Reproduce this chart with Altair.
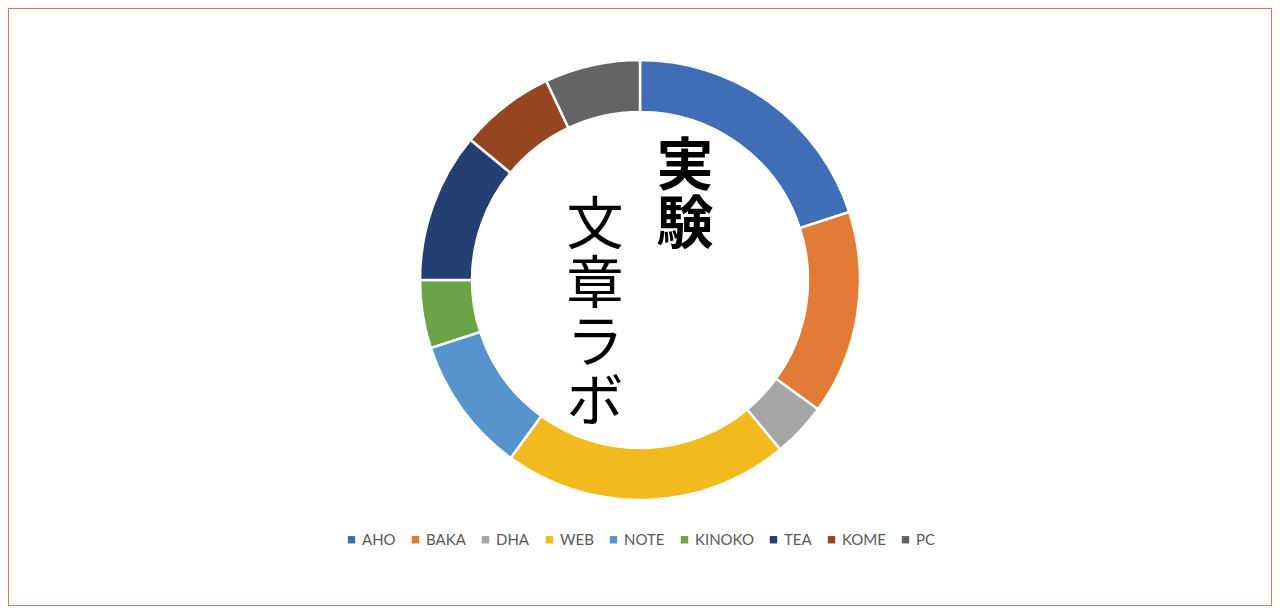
import altair as alt
import pandas as pd

categories = ["AHO", "BAKA", "DHA", "WEB", "NOTE", "KINOKO", "TEA", "KOME", "PC"]
values = [20, 15, 4, 21, 10, 5, 11, 7, 7]
colors = ["#3F6EB6", "#E27B35", "#A5A5A5", "#F2BA1E", "#5794CD", "#6BA446",
          "#243F72", "#954520", "#646464"]
title_right = ["実", "験"]
title_left = ["文", "章", "ラ", "ボ"]

df = pd.DataFrame({"cat": categories, "val": values, "idx": list(range(len(values)))})

W, H = 1264, 598

donut = alt.Chart(df).mark_arc(
    outerRadius=220, innerRadius=168, stroke="white", strokeWidth=2.5
).encode(
    x=alt.value(632),
    y=alt.value(272),
    theta=alt.Theta("val:Q", stack=True),
    order=alt.Order("idx:Q"),
    color=alt.Color(
        "cat:N",
        scale=alt.Scale(domain=categories, range=colors),
        sort=categories,
        legend=alt.Legend(
            title=None,
            orient="none",
            direction="horizontal",
            legendX=336,
            legendY=524,
            symbolType="square",
            symbolSize=55,
            symbolStrokeWidth=0,
            labelFontSize=15,
            labelFont="Lato",
            labelColor="#595959",
            columnPadding=12,
            labelOffset=3,
        ),
    ),
)

one = pd.DataFrame({"a": [0]})

txt_right = alt.Chart(one).mark_text(
    font="Noto Sans CJK JP", fontSize=57, fontWeight="bold", color="#000000",
    baseline="top", align="center", lineHeight=58,
).encode(x=alt.value(677), y=alt.value(132), text=alt.value(title_right))

txt_left = alt.Chart(one).mark_text(
    font="Noto Sans CJK JP", fontSize=57, fontWeight="normal", color="#000000",
    baseline="top", align="center", lineHeight=59,
).encode(x=alt.value(587), y=alt.value(191), text=alt.value(title_left))

chart = alt.layer(donut, txt_right, txt_left).properties(
    width=W, height=H, padding=0, background="white"
).configure_view(stroke="#E2793A", strokeWidth=2)

chart.save("out.html", embed_options={"renderer": "svg", "actions": False})
